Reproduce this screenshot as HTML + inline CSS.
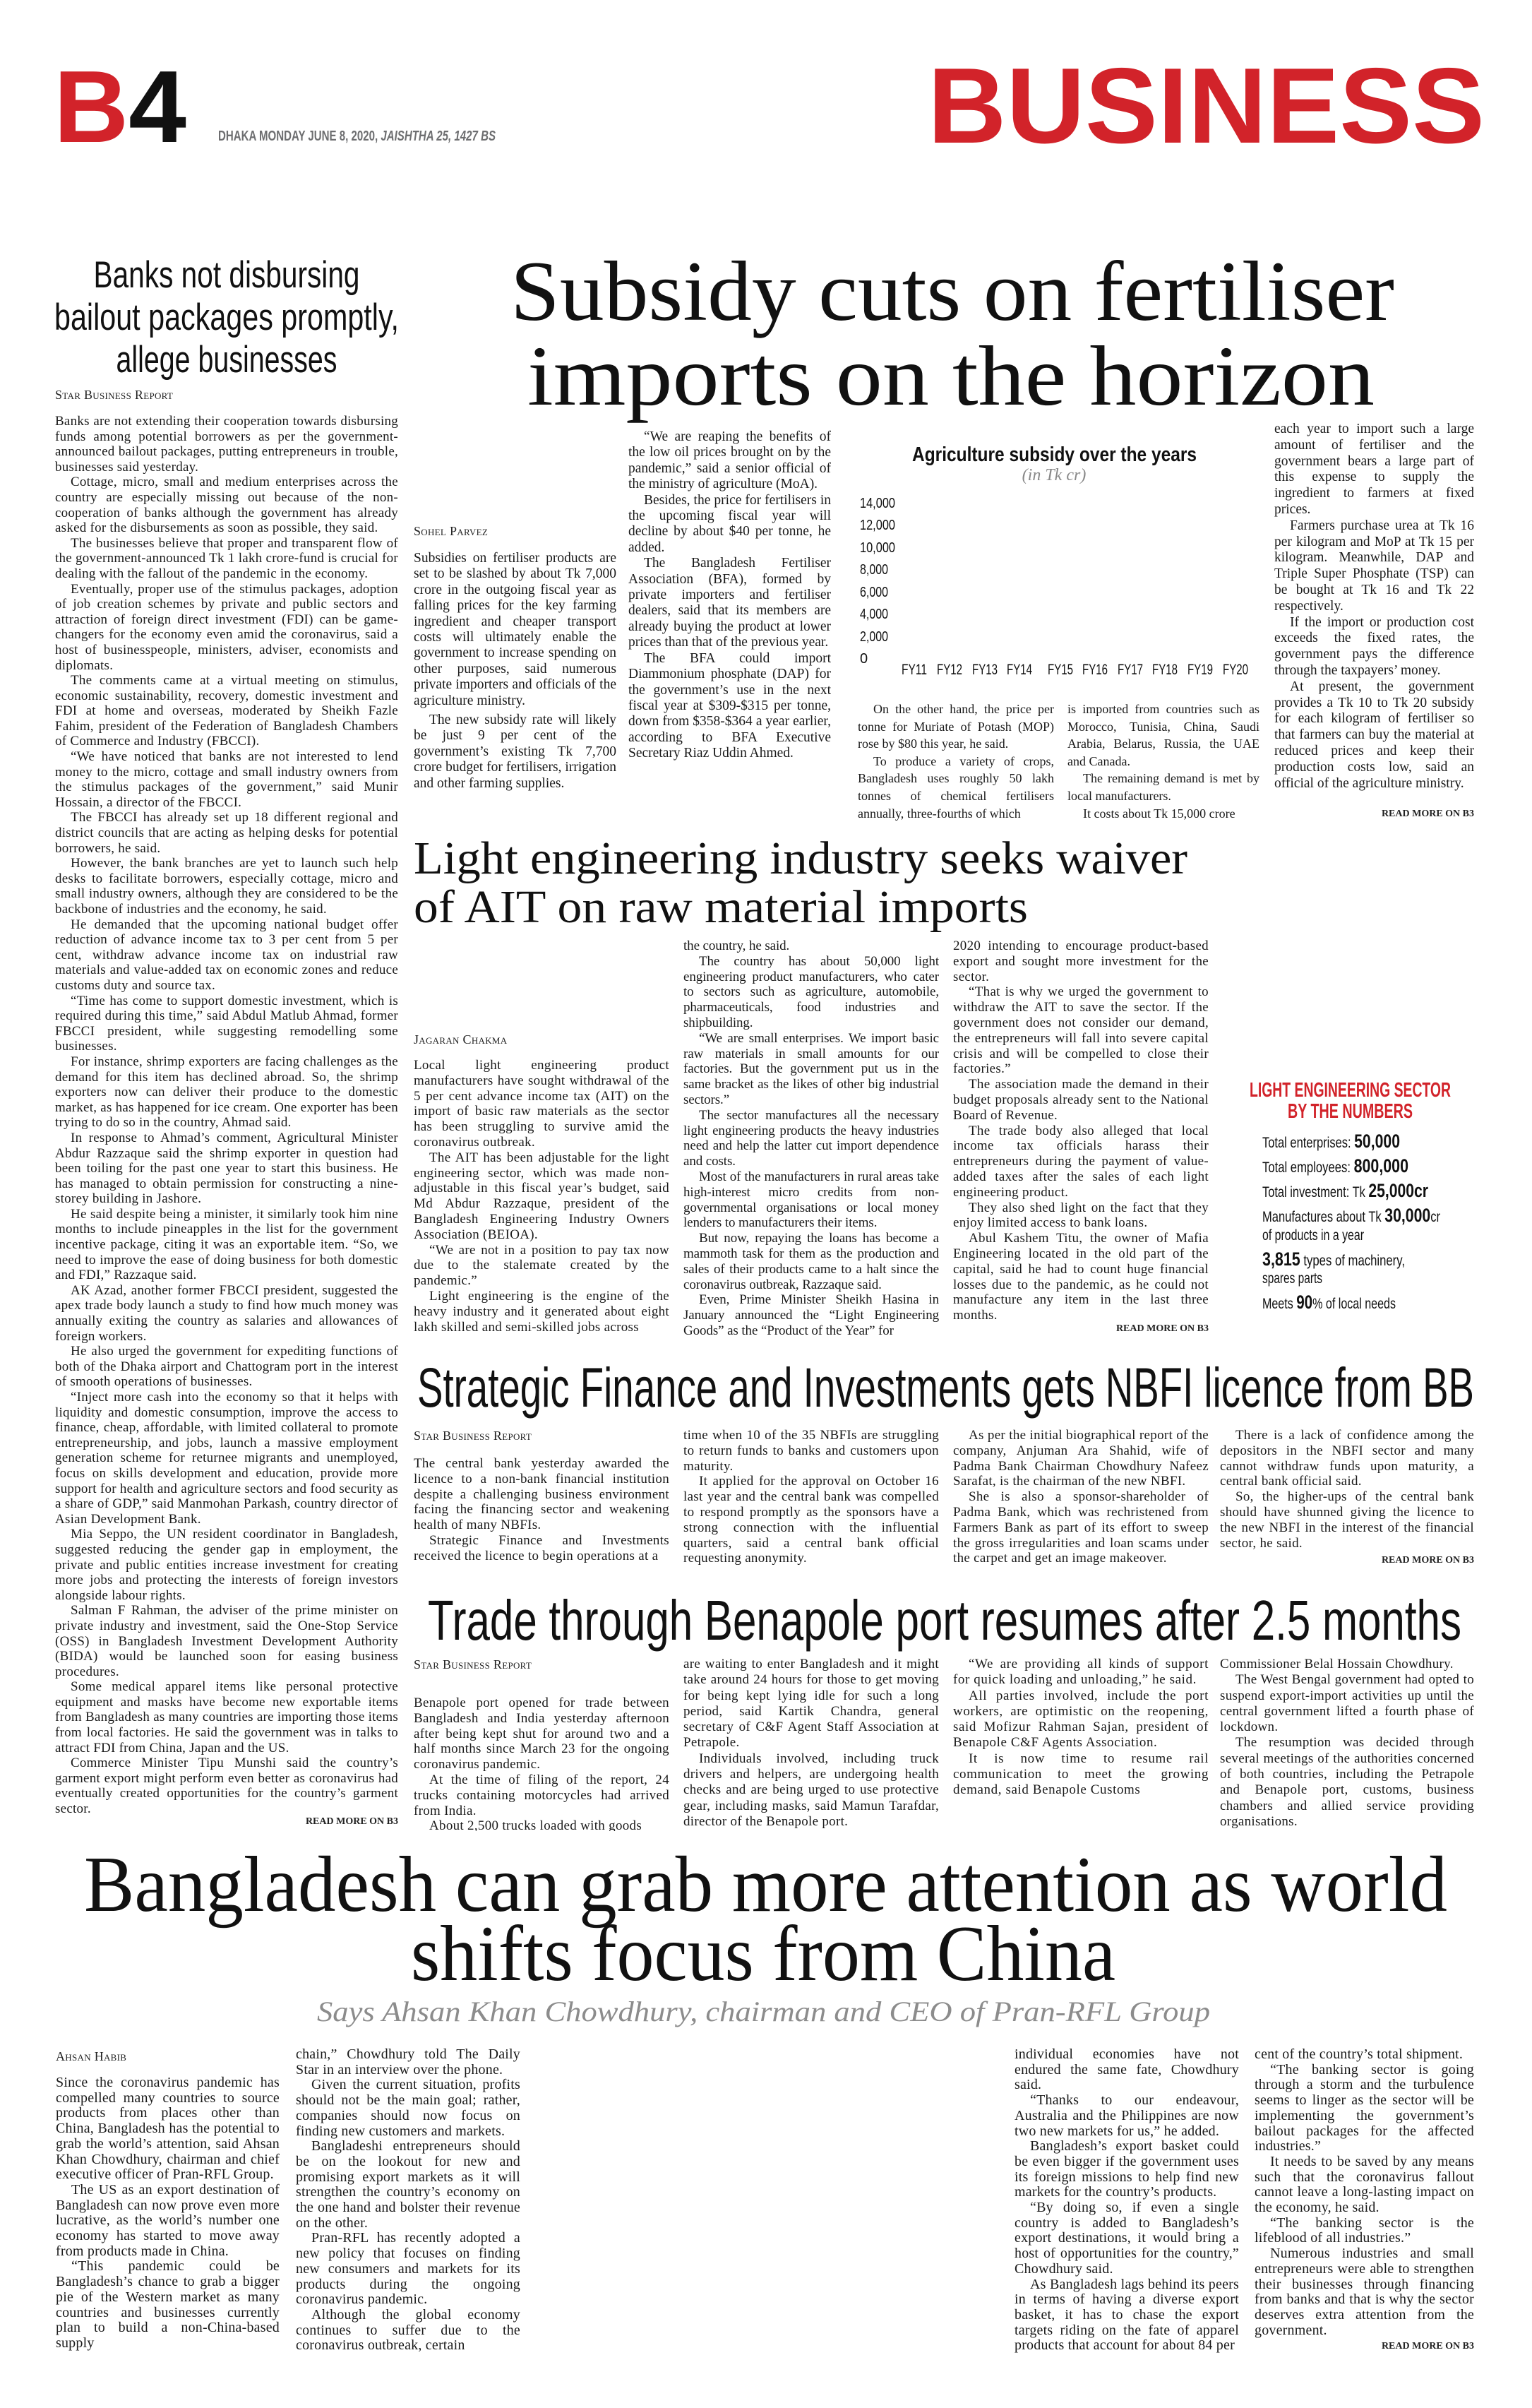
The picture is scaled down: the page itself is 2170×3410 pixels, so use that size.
<!DOCTYPE html>
<html lang="en">
<head>
<meta charset="utf-8">
<style>
html,body{margin:0;padding:0;background:#fff;}
body{width:2170px;height:3410px;position:relative;overflow:hidden;}
.c{position:absolute;font-family:"Liberation Serif",serif;font-size:19px;line-height:21.8px;color:#1a1a1a;text-align:justify;overflow:hidden;letter-spacing:0.3px;hyphens:auto;}
.c p{margin:0;text-indent:22px;}
.c p.f{text-indent:0;}
.by{position:absolute;font-family:"Liberation Serif",serif;font-variant:small-caps;font-size:18px;line-height:22px;color:#222;letter-spacing:0.3px;}
.rm{position:absolute;font-family:"Liberation Serif",serif;font-weight:bold;font-size:14px;line-height:20px;color:#222;text-align:right;}
svg{position:absolute;left:0;top:0;}
</style>
</head>
<body>

<svg width="2170" height="3410" viewBox="0 0 2170 3410">
  <text x="76" y="201" font-family="Liberation Sans" font-weight="bold" font-size="145" textLength="188" lengthAdjust="spacingAndGlyphs"><tspan fill="#d2232a">B</tspan><tspan fill="#111">4</tspan></text>
  <text x="309" y="199" font-family="Liberation Sans" font-weight="bold" font-size="20" fill="#6d6e70" textLength="393" lengthAdjust="spacingAndGlyphs">DHAKA MONDAY JUNE 8, 2020, <tspan font-style="italic">JAISHTHA 25, 1427 BS</tspan></text>
  <text x="1314" y="202" font-family="Liberation Sans" font-weight="bold" font-size="152" fill="#d2232a" textLength="789" lengthAdjust="spacingAndGlyphs">BUSINESS</text>

  <g font-family="Liberation Sans" font-size="53" fill="#111" text-anchor="middle">
    <text x="321" y="407" textLength="377" lengthAdjust="spacingAndGlyphs">Banks not disbursing</text>
    <text x="321" y="467" textLength="488" lengthAdjust="spacingAndGlyphs">bailout packages promptly,</text>
    <text x="321" y="527" textLength="313" lengthAdjust="spacingAndGlyphs">allege businesses</text>
  </g>

  <g font-family="Liberation Serif" font-size="121" fill="#111">
    <text x="723" y="453" textLength="1252" lengthAdjust="spacingAndGlyphs">Subsidy cuts on fertiliser</text>
    <text x="747" y="573" textLength="1200" lengthAdjust="spacingAndGlyphs">imports on the horizon</text>
  </g>

  <text x="1292" y="653" font-family="Liberation Sans" font-weight="bold" font-size="29" fill="#111" textLength="403" lengthAdjust="spacingAndGlyphs">Agriculture subsidy over the years</text>
  <text x="1493" y="680" font-family="Liberation Serif" font-style="italic" font-size="24" fill="#888" text-anchor="middle">(in Tk cr)</text>
  <g font-family="Liberation Sans" font-size="20" fill="#111">
    <text x="1218" y="719" textLength="50" lengthAdjust="spacingAndGlyphs">14,000</text>
    <text x="1218" y="750" textLength="50" lengthAdjust="spacingAndGlyphs">12,000</text>
    <text x="1218" y="782" textLength="50" lengthAdjust="spacingAndGlyphs">10,000</text>
    <text x="1218" y="813" textLength="40" lengthAdjust="spacingAndGlyphs">8,000</text>
    <text x="1218" y="845" textLength="40" lengthAdjust="spacingAndGlyphs">6,000</text>
    <text x="1218" y="876" textLength="40" lengthAdjust="spacingAndGlyphs">4,000</text>
    <text x="1218" y="908" textLength="40" lengthAdjust="spacingAndGlyphs">2,000</text>
    <text x="1218" y="939">0</text>
  </g>
  <g font-family="Liberation Sans" font-size="21" fill="#111" text-anchor="middle">
    <text x="1295" y="955" textLength="36" lengthAdjust="spacingAndGlyphs">FY11</text>
    <text x="1345" y="955" textLength="36" lengthAdjust="spacingAndGlyphs">FY12</text>
    <text x="1395" y="955" textLength="36" lengthAdjust="spacingAndGlyphs">FY13</text>
    <text x="1444" y="955" textLength="36" lengthAdjust="spacingAndGlyphs">FY14</text>
    <text x="1502" y="955" textLength="36" lengthAdjust="spacingAndGlyphs">FY15</text>
    <text x="1551" y="955" textLength="36" lengthAdjust="spacingAndGlyphs">FY16</text>
    <text x="1601" y="955" textLength="36" lengthAdjust="spacingAndGlyphs">FY17</text>
    <text x="1650" y="955" textLength="36" lengthAdjust="spacingAndGlyphs">FY18</text>
    <text x="1700" y="955" textLength="36" lengthAdjust="spacingAndGlyphs">FY19</text>
    <text x="1750" y="955" textLength="36" lengthAdjust="spacingAndGlyphs">FY20</text>
  </g>

  <g font-family="Liberation Serif" font-size="66" fill="#111">
    <text x="586" y="1237" textLength="1096" lengthAdjust="spacingAndGlyphs">Light engineering industry seeks waiver</text>
    <text x="586" y="1306" textLength="870" lengthAdjust="spacingAndGlyphs">of AIT on raw material imports</text>
  </g>

  <g font-family="Liberation Sans" font-weight="bold" font-size="29" fill="#d2232a">
    <text x="1770" y="1553" textLength="285" lengthAdjust="spacingAndGlyphs">LIGHT ENGINEERING SECTOR</text>
    <text x="1824" y="1583" textLength="177" lengthAdjust="spacingAndGlyphs">BY THE NUMBERS</text>
  </g>
  <g font-family="Liberation Sans" font-size="21" fill="#111">
    <text x="1788" y="1625" textLength="195" lengthAdjust="spacingAndGlyphs">Total enterprises: <tspan font-weight="bold" font-size="27">50,000</tspan></text>
    <text x="1788" y="1660" textLength="207" lengthAdjust="spacingAndGlyphs">Total employees: <tspan font-weight="bold" font-size="27">800,000</tspan></text>
    <text x="1788" y="1695" textLength="235" lengthAdjust="spacingAndGlyphs">Total investment: Tk <tspan font-weight="bold" font-size="27">25,000cr</tspan></text>
    <text x="1788" y="1730" textLength="252" lengthAdjust="spacingAndGlyphs">Manufactures about Tk <tspan font-weight="bold" font-size="27">30,000</tspan>cr</text>
    <text x="1788" y="1756" textLength="144" lengthAdjust="spacingAndGlyphs">of products in a year</text>
    <text x="1788" y="1792" textLength="202" lengthAdjust="spacingAndGlyphs"><tspan font-weight="bold" font-size="27">3,815</tspan> types of machinery,</text>
    <text x="1788" y="1817" textLength="85" lengthAdjust="spacingAndGlyphs">spares parts</text>
    <text x="1788" y="1853" textLength="189" lengthAdjust="spacingAndGlyphs">Meets <tspan font-weight="bold" font-size="27">90</tspan>% of local needs</text>
  </g>

  <text x="591" y="1992" font-family="Liberation Sans" font-size="79" fill="#111" textLength="1497" lengthAdjust="spacingAndGlyphs">Strategic Finance and Investments gets NBFI licence from BB</text>
  <text x="606" y="2322" font-family="Liberation Sans" font-size="80" fill="#111" textLength="1464" lengthAdjust="spacingAndGlyphs">Trade through Benapole port resumes after 2.5 months</text>

  <g font-family="Liberation Serif" font-size="112" fill="#111">
    <text x="119" y="2706" textLength="1931" lengthAdjust="spacingAndGlyphs">Bangladesh can grab more attention as world</text>
    <text x="582" y="2804" textLength="998" lengthAdjust="spacingAndGlyphs">shifts focus from China</text>
  </g>
  <text x="449" y="2862" font-family="Liberation Serif" font-style="italic" font-size="40" fill="#8c8c8c" textLength="1265" lengthAdjust="spacingAndGlyphs">Says Ahsan Khan Chowdhury, chairman and CEO of Pran-RFL Group</text>
</svg>

<!-- LEFT COLUMN -->
<div class="by" style="left:78px;top:548px;">Star Business Report</div>
<div class="c" style="left:78px;top:586px;width:486px;height:1984px;line-height:21.6px;letter-spacing:0.25px;">
<p class="f">Banks are not extending their cooperation towards disbursing funds among potential borrowers as per the government-announced bailout packages, putting entrepreneurs in trouble, businesses said yesterday.</p>
<p>Cottage, micro, small and medium enterprises across the country are especially missing out because of the non-cooperation of banks although the government has already asked for the disbursements as soon as possible, they said.</p>
<p>The businesses believe that proper and transparent flow of the government-announced Tk 1 lakh crore-fund is crucial for dealing with the fallout of the pandemic in the economy.</p>
<p>Eventually, proper use of the stimulus packages, adoption of job creation schemes by private and public sectors and attraction of foreign direct investment (FDI) can be game-changers for the economy even amid the coronavirus, said a host of businesspeople, ministers, adviser, economists and diplomats.</p>
<p>The comments came at a virtual meeting on stimulus, economic sustainability, recovery, domestic investment and FDI at home and overseas, moderated by Sheikh Fazle Fahim, president of the Federation of Bangladesh Chambers of Commerce and Industry (FBCCI).</p>
<p>“We have noticed that banks are not interested to lend money to the micro, cottage and small industry owners from the stimulus packages of the government,” said Munir Hossain, a director of the FBCCI.</p>
<p>The FBCCI has already set up 18 different regional and district councils that are acting as helping desks for potential borrowers, he said.</p>
<p>However, the bank branches are yet to launch such help desks to facilitate borrowers, especially cottage, micro and small industry owners, although they are considered to be the backbone of industries and the economy, he said.</p>
<p>He demanded that the upcoming national budget offer reduction of advance income tax to 3 per cent from 5 per cent, withdraw advance income tax on industrial raw materials and value-added tax on economic zones and reduce customs duty and source tax.</p>
<p>“Time has come to support domestic investment, which is required during this time,” said Abdul Matlub Ahmad, former FBCCI president, while suggesting remodelling some businesses.</p>
<p>For instance, shrimp exporters are facing challenges as the demand for this item has declined abroad. So, the shrimp exporters now can deliver their produce to the domestic market, as has happened for ice cream. One exporter has been trying to do so in the country, Ahmad said.</p>
<p>In response to Ahmad’s comment, Agricultural Minister Abdur Razzaque said the shrimp exporter in question had been toiling for the past one year to start this business. He has managed to obtain permission for constructing a nine-storey building in Jashore.</p>
<p>He said despite being a minister, it similarly took him nine months to include pineapples in the list for the government incentive package, citing it was an exportable item. “So, we need to improve the ease of doing business for both domestic and FDI,” Razzaque said.</p>
<p>AK Azad, another former FBCCI president, suggested the apex trade body launch a study to find how much money was annually exiting the country as salaries and allowances of foreign workers.</p>
<p>He also urged the government for expediting functions of both of the Dhaka airport and Chattogram port in the interest of smooth operations of businesses.</p>
<p>“Inject more cash into the economy so that it helps with liquidity and domestic consumption, improve the access to finance, cheap, affordable, with limited collateral to promote entrepreneurship, and jobs, launch a massive employment generation scheme for returnee migrants and unemployed, focus on skills development and education, provide more support for health and agriculture sectors and food security as a share of GDP,” said Manmohan Parkash, country director of Asian Development Bank.</p>
<p>Mia Seppo, the UN resident coordinator in Bangladesh, suggested reducing the gender gap in employment, the private and public entities increase investment for creating more jobs and protecting the interests of foreign investors alongside labour rights.</p>
<p>Salman F Rahman, the adviser of the prime minister on private industry and investment, said the One-Stop Service (OSS) in Bangladesh Investment Development Authority (BIDA) would be launched soon for easing business procedures.</p>
<p>Some medical apparel items like personal protective equipment and masks have become new exportable items from Bangladesh as many countries are importing those items from local factories. He said the government was in talks to attract FDI from China, Japan and the US.</p>
<p>Commerce Minister Tipu Munshi said the country’s garment export might perform even better as coronavirus had eventually created opportunities for the country’s garment sector.</p>
</div>
<div class="rm" style="left:364px;width:200px;top:2570px;">READ MORE ON B3</div>

<!-- SUBSIDY STORY -->
<div class="by" style="left:586px;top:741px;">Sohel Parvez</div>
<div class="c" style="left:586px;top:780px;width:287px;height:362px;font-size:19.5px;line-height:22.4px;letter-spacing:0;">
<p class="f">Subsidies on fertiliser products are set to be slashed by about Tk 7,000 crore in the outgoing fiscal year as falling prices for the key farming ingredient and cheaper transport costs will ultimately enable the government to increase spending on other purposes, said numerous private importers and officials of the agriculture ministry.</p>
<p style="margin-top:5px">The new subsidy rate will likely be just 9 per cent of the government’s existing Tk 7,700 crore budget for fertilisers, irrigation and other farming supplies.</p>
</div>
<div class="c" style="left:890px;top:608px;width:287px;height:538px;font-size:19.5px;line-height:22.4px;letter-spacing:0;">
<p>“We are reaping the benefits of the low oil prices brought on by the pandemic,” said a senior official of the ministry of agriculture (MoA).</p>
<p>Besides, the price for fertilisers in the upcoming fiscal year will decline by about $40 per tonne, he added.</p>
<p>The Bangladesh Fertiliser Association (BFA), formed by private importers and fertiliser dealers, said that its members are already buying the product at lower prices than that of the previous year.</p>
<p>The BFA could import Diammonium phosphate (DAP) for the government’s use in the next fiscal year at $309-$315 per tonne, down from $358-$364 a year earlier, according to BFA Executive Secretary Riaz Uddin Ahmed.</p>
</div>
<div class="c" style="left:1215px;top:992px;width:278px;height:175px;font-size:18px;line-height:24.6px;letter-spacing:0;">
<p>On the other hand, the price per tonne for Muriate of Potash (MOP) rose by $80 this year, he said.</p>
<p>To produce a variety of crops, Bangladesh uses roughly 50 lakh tonnes of chemical fertilisers annually, three-fourths of which</p>
</div>
<div class="c" style="left:1512px;top:992px;width:272px;height:175px;font-size:18px;line-height:24.6px;letter-spacing:0;">
<p class="f">is imported from countries such as Morocco, Tunisia, China, Saudi Arabia, Belarus, Russia, the UAE and Canada.</p>
<p>The remaining demand is met by local manufacturers.</p>
<p>It costs about Tk 15,000 crore</p>
</div>
<div class="c" style="left:1805px;top:597px;width:283px;height:548px;font-size:19.5px;line-height:22.8px;letter-spacing:0;">
<p class="f">each year to import such a large amount of fertiliser and the government bears a large part of this expense to supply the ingredient to farmers at fixed prices.</p>
<p>Farmers purchase urea at Tk 16 per kilogram and MoP at Tk 15 per kilogram. Meanwhile, DAP and Triple Super Phosphate (TSP) can be bought at Tk 16 and Tk 22 respectively.</p>
<p>If the import or production cost exceeds the fixed rates, the government pays the difference through the taxpayers’ money.</p>
<p>At present, the government provides a Tk 10 to Tk 20 subsidy for each kilogram of fertiliser so that farmers can buy the material at reduced prices and keep their production costs low, said an official of the agriculture ministry.</p>
</div>
<div class="rm" style="left:1888px;width:200px;top:1143px;">READ MORE ON B3</div>

<!-- LIGHT ENGINEERING -->
<div class="by" style="left:586px;top:1461px;">Jagaran Chakma</div>
<div class="c" style="left:586px;top:1498px;width:362px;height:392px;">
<p class="f">Local light engineering product manufacturers have sought withdrawal of the 5 per cent advance income tax (AIT) on the import of basic raw materials as the sector has been struggling to survive amid the coronavirus outbreak.</p>
<p>The AIT has been adjustable for the light engineering sector, which was made non-adjustable in this fiscal year’s budget, said Md Abdur Razzaque, president of the Bangladesh Engineering Industry Owners Association (BEIOA).</p>
<p>“We are not in a position to pay tax now due to the stalemate created by the pandemic.”</p>
<p>Light engineering is the engine of the heavy industry and it generated about eight lakh skilled and semi-skilled jobs across</p>
</div>
<div class="c" style="left:968px;top:1329px;width:362px;height:561px;letter-spacing:-0.1px;">
<p class="f">the country, he said.</p>
<p>The country has about 50,000 light engineering product manufacturers, who cater to sectors such as agriculture, automobile, pharmaceuticals, food industries and shipbuilding.</p>
<p>“We are small enterprises. We import basic raw materials in small amounts for our factories. But the government put us in the same bracket as the likes of other big industrial sectors.”</p>
<p>The sector manufactures all the necessary light engineering products the heavy industries need and help the latter cut import dependence and costs.</p>
<p>Most of the manufacturers in rural areas take high-interest micro credits from non-governmental organisations or local money lenders to manufacturers their items.</p>
<p>But now, repaying the loans has become a mammoth task for them as the production and sales of their products came to a halt since the coronavirus outbreak, Razzaque said.</p>
<p>Even, Prime Minister Sheikh Hasina in January announced the “Light Engineering Goods” as the “Product of the Year” for</p>
</div>
<div class="c" style="left:1350px;top:1329px;width:362px;height:539px;">
<p class="f">2020 intending to encourage product-based export and sought more investment for the sector.</p>
<p>“That is why we urged the government to withdraw the AIT to save the sector. If the government does not consider our demand, the entrepreneurs will fall into severe capital crisis and will be compelled to close their factories.”</p>
<p>The association made the demand in their budget proposals already sent to the National Board of Revenue.</p>
<p>The trade body also alleged that local income tax officials harass their entrepreneurs during the payment of value-added taxes after the sales of each light engineering product.</p>
<p>They also shed light on the fact that they enjoy limited access to bank loans.</p>
<p>Abul Kashem Titu, the owner of Mafia Engineering located in the old part of the capital, said he had to count huge financial losses due to the pandemic, as he could not manufacture any item in the last three months.</p>
</div>
<div class="rm" style="left:1512px;width:200px;top:1872px;">READ MORE ON B3</div>

<!-- STRATEGIC -->
<div class="by" style="left:586px;top:2022px;">Star Business Report</div>
<div class="c" style="left:586px;top:2062px;width:362px;height:154px;">
<p class="f">The central bank yesterday awarded the licence to a non-bank financial institution despite a challenging business environment facing the financing sector and weakening health of many NBFIs.</p>
<p>Strategic Finance and Investments received the licence to begin operations at a</p>
</div>
<div class="c" style="left:968px;top:2022px;width:362px;height:196px;">
<p class="f">time when 10 of the 35 NBFIs are struggling to return funds to banks and customers upon maturity.</p>
<p>It applied for the approval on October 16 last year and the central bank was compelled to respond promptly as the sponsors have a strong connection with the influential quarters, said a central bank official requesting anonymity.</p>
</div>
<div class="c" style="left:1350px;top:2022px;width:362px;height:196px;">
<p>As per the initial biographical report of the company, Anjuman Ara Shahid, wife of Padma Bank Chairman Chowdhury Nafeez Sarafat, is the chairman of the new NBFI.</p>
<p>She is also a sponsor-shareholder of Padma Bank, which was rechristened from Farmers Bank as part of its effort to sweep the gross irregularities and loan scams under the carpet and get an image makeover.</p>
</div>
<div class="c" style="left:1728px;top:2022px;width:360px;height:176px;">
<p>There is a lack of confidence among the depositors in the NBFI sector and many cannot withdraw funds upon maturity, a central bank official said.</p>
<p>So, the higher-ups of the central bank should have shunned giving the licence to the new NBFI in the interest of the financial sector, he said.</p>
</div>
<div class="rm" style="left:1888px;width:200px;top:2200px;">READ MORE ON B3</div>

<!-- TRADE -->
<div class="by" style="left:586px;top:2346px;">Star Business Report</div>
<div class="c" style="left:586px;top:2401px;width:362px;height:192px;">
<p class="f">Benapole port opened for trade between Bangladesh and India yesterday afternoon after being kept shut for around two and a half months since March 23 for the ongoing coronavirus pandemic.</p>
<p>At the time of filing of the report, 24 trucks containing motorcycles had arrived from India.</p>
<p>About 2,500 trucks loaded with goods</p>
</div>
<div class="c" style="left:968px;top:2346px;width:362px;height:247px;line-height:22.3px;">
<p class="f">are waiting to enter Bangladesh and it might take around 24 hours for those to get moving for being kept lying idle for such a long period, said Kartik Chandra, general secretary of C&amp;F Agent Staff Association at Petrapole.</p>
<p>Individuals involved, including truck drivers and helpers, are undergoing health checks and are being urged to use protective gear, including masks, said Mamun Tarafdar, director of the Benapole port.</p>
</div>
<div class="c" style="left:1350px;top:2346px;width:362px;height:247px;line-height:22.3px;letter-spacing:0.6px;">
<p>“We are providing all kinds of support for quick loading and unloading,” he said.</p>
<p>All parties involved, include the port workers, are optimistic on the reopening, said Mofizur Rahman Sajan, president of Benapole C&amp;F Agents Association.</p>
<p>It is now time to resume rail communication to meet the growing demand, said Benapole Customs</p>
</div>
<div class="c" style="left:1728px;top:2346px;width:360px;height:247px;line-height:22.3px;">
<p class="f">Commissioner Belal Hossain Chowdhury.</p>
<p>The West Bengal government had opted to suspend export-import activities up until the central government lifted a fourth phase of lockdown.</p>
<p>The resumption was decided through several meetings of the authorities concerned of both countries, including the Petrapole and Benapole port, customs, business chambers and allied service providing organisations.</p>
</div>

<!-- BOTTOM -->
<div class="by" style="left:79px;top:2901px;">Ahsan Habib</div>
<div class="c" style="left:79px;top:2939px;width:317px;height:395px;font-size:20px;line-height:21.7px;letter-spacing:0.2px;">
<p class="f">Since the coronavirus pandemic has compelled many countries to source products from places other than China, Bangladesh has the potential to grab the world’s attention, said Ahsan Khan Chowdhury, chairman and chief executive officer of Pran-RFL Group.</p>
<p>The US as an export destination of Bangladesh can now prove even more lucrative, as the world’s number one economy has started to move away from products made in China.</p>
<p>“This pandemic could be Bangladesh’s chance to grab a bigger pie of the Western market as many countries and businesses currently plan to build a non-China-based supply</p>
</div>
<div class="c" style="left:419px;top:2899px;width:318px;height:435px;font-size:20px;line-height:21.7px;letter-spacing:0.2px;">
<p class="f">chain,” Chowdhury told The Daily Star in an interview over the phone.</p>
<p>Given the current situation, profits should not be the main goal; rather, companies should now focus on finding new customers and markets.</p>
<p>Bangladeshi entrepreneurs should be on the lookout for new and promising export markets as it will strengthen the country’s economy on the one hand and bolster their revenue on the other.</p>
<p>Pran-RFL has recently adopted a new policy that focuses on finding new consumers and markets for its products during the ongoing coronavirus pandemic.</p>
<p>Although the global economy continues to suffer due to the coronavirus outbreak, certain</p>
</div>
<div class="c" style="left:1437px;top:2899px;width:318px;height:435px;font-size:20px;line-height:21.7px;letter-spacing:0.2px;">
<p class="f">individual economies have not endured the same fate, Chowdhury said.</p>
<p>“Thanks to our endeavour, Australia and the Philippines are now two new markets for us,” he added.</p>
<p>Bangladesh’s export basket could be even bigger if the government uses its foreign missions to help find new markets for the country’s products.</p>
<p>“By doing so, if even a single country is added to Bangladesh’s export destinations, it would bring a host of opportunities for the country,” Chowdhury said.</p>
<p>As Bangladesh lags behind its peers in terms of having a diverse export basket, it has to chase the export targets riding on the fate of apparel products that account for about 84 per</p>
</div>
<div class="c" style="left:1777px;top:2899px;width:311px;height:414px;font-size:20px;line-height:21.7px;letter-spacing:0.2px;">
<p class="f">cent of the country’s total shipment.</p>
<p>“The banking sector is going through a storm and the turbulence seems to linger as the sector will be implementing the government’s bailout packages for the affected industries.”</p>
<p>It needs to be saved by any means such that the coronavirus fallout cannot leave a long-lasting impact on the economy, he said.</p>
<p>“The banking sector is the lifeblood of all industries.”</p>
<p>Numerous industries and small entrepreneurs were able to strengthen their businesses through financing from banks and that is why the sector deserves extra attention from the government.</p>
</div>
<div class="rm" style="left:1888px;width:200px;top:3313px;">READ MORE ON B3</div>

</body>
</html>
